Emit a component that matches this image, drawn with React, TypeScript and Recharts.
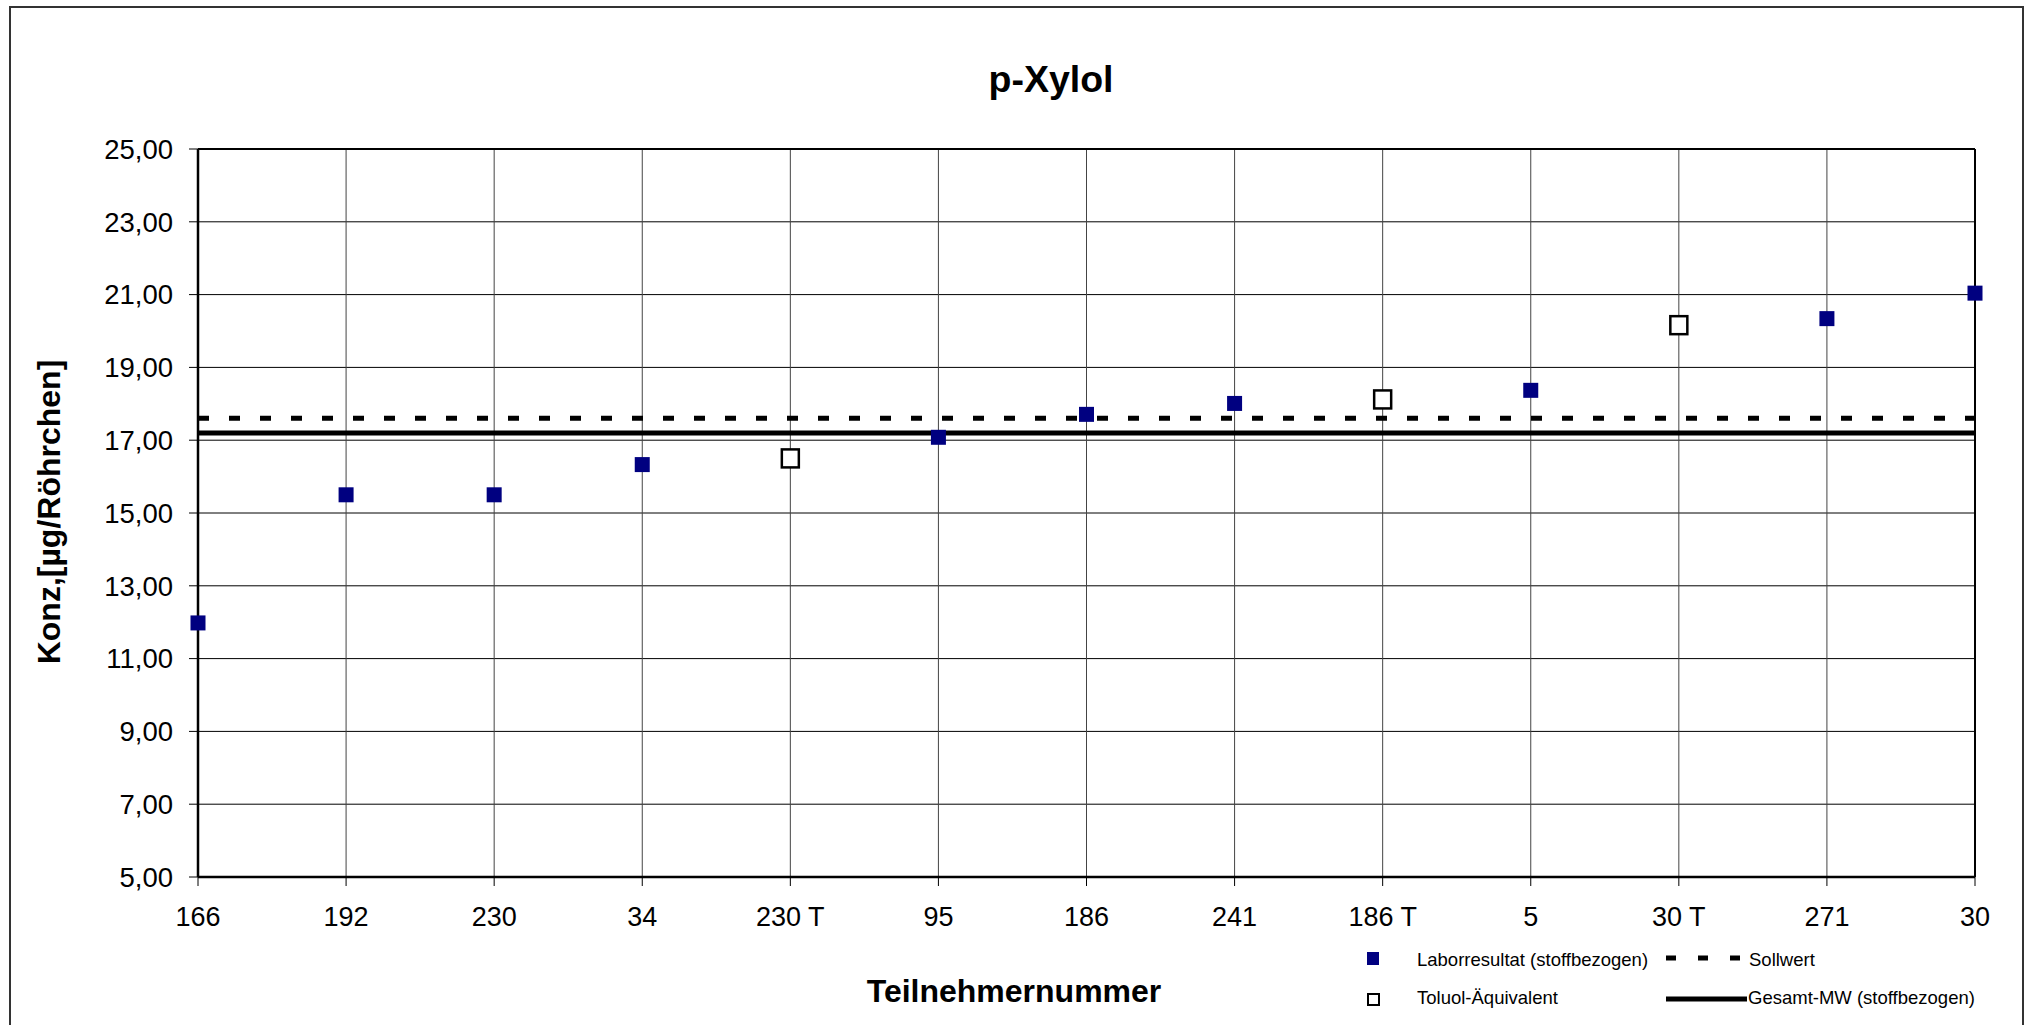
import React from "react";
import { ScatterChart, Scatter, XAxis, YAxis, CartesianGrid, ReferenceLine } from "recharts";

const FONT = "'Liberation Sans', Arial, sans-serif";

// Teilnehmer (x categories)
const participants = ["166", "192", "230", "34", "230 T", "95", "186", "241", "186 T", "5", "30 T", "271", "30"];

// Laborresultat (stoffbezogen), null where the participant only has a Toluol-Äquivalent
const labValues = [11.98, 15.5, 15.5, 16.33, null, 17.08, 17.71, 18.01, null, 18.37, null, 20.34, 21.04];

// Toluol-Äquivalent
const toluolValues = [null, null, null, null, 16.5, null, null, null, 18.12, null, 20.16, null, null];

const sollwert = 17.6;
const gesamtMW = 17.2;

const yTicks = [5, 7, 9, 11, 13, 15, 17, 19, 21, 23, 25];

const toPoints = (vals: (number | null)[]) =>
    vals
        .map((v, i) => (v == null ? null : { x: i, y: v }))
        .filter((p): p is { x: number; y: number } => p !== null);

const labData = toPoints(labValues);
const toluolData = toPoints(toluolValues);
const xTicks = participants.map((_, i) => i);

const FilledSquare = (props: any) => {
    const { cx, cy } = props;
    return <rect x={cx - 7.5} y={cy - 7.5} width={15} height={15} fill="#000080" />;
};

const OpenSquare = (props: any) => {
    const { cx, cy } = props;
    return <rect x={cx - 8.5} y={cy - 9} width={17} height={18} fill="#fff" stroke="#000" strokeWidth={2.5} />;
};

const fmt = (v: number) => v.toFixed(2).replace(".", ",");

export default function App() {
    return (
        <div style={{ position: "absolute", left: 0, top: 0, width: 2035, height: 1025, overflow: "hidden", background: "#fff", fontFamily: FONT }}>
            <div
                style={{
                    position: "absolute",
                    left: 9,
                    top: 6,
                    width: 2015,
                    height: 1030,
                    border: "2px solid #333",
                    boxSizing: "border-box",
                }}
            />
            <div style={{ position: "absolute", left: 0, top: 0 }}>
                <ScatterChart width={2035} height={1025} margin={{ top: 149, right: 60, bottom: 88, left: 108 }}>
                    <CartesianGrid horizontal={true} vertical={false} stroke="#000" strokeWidth={1} />
                    <CartesianGrid horizontal={false} vertical={true} stroke="#444" strokeWidth={1} />
                    <XAxis
                        type="number"
                        dataKey="x"
                        domain={[0, 12]}
                        ticks={xTicks}
                        interval={0}
                        height={60}
                        tickFormatter={(i: number) => participants[i]}
                        tick={{ fill: "#000", fontSize: 27, fontFamily: FONT }}
                        tickSize={9}
                        tickMargin={21}
                        tickLine={{ stroke: "#000", strokeWidth: 1 }}
                        axisLine={{ stroke: "#000", strokeWidth: 2.5 }}
                        allowDecimals={false}
                    />
                    <YAxis
                        type="number"
                        dataKey="y"
                        domain={[5, 25]}
                        ticks={yTicks}
                        interval={0}
                        width={90}
                        tickFormatter={fmt}
                        tick={{ fill: "#000", fontSize: 27.5, fontFamily: FONT }}
                        tickSize={9}
                        tickMargin={16}
                        tickLine={{ stroke: "#000", strokeWidth: 1 }}
                        axisLine={{ stroke: "#000", strokeWidth: 2.5 }}
                    />
                    <ReferenceLine y={25} stroke="#000" strokeWidth={2} />
                    <ReferenceLine x={12} stroke="#000" strokeWidth={2} />
                    <ReferenceLine y={sollwert} stroke="#000" strokeWidth={5} strokeDasharray="11 20" />
                    <ReferenceLine y={gesamtMW} stroke="#000" strokeWidth={5} />
                    <Scatter name="Laborresultat (stoffbezogen)" data={labData} shape={FilledSquare} isAnimationActive={false} />
                    <Scatter name="Toluol-Äquivalent" data={toluolData} shape={OpenSquare} isAnimationActive={false} />
                </ScatterChart>
            </div>
            <svg width={2035} height={1025} style={{ position: "absolute", left: 0, top: 0, pointerEvents: "none" }}>
                <text x={1051} y={92} textAnchor="middle" fontSize={37.5} fontWeight="bold" fontFamily={FONT} fill="#000">
                    p-Xylol
                </text>
                <text
                    x={0}
                    y={0}
                    transform="translate(60 512) rotate(-90)"
                    textAnchor="middle"
                    fontSize={32}
                    fontWeight="bold"
                    fontFamily={FONT}
                    fill="#000"
                >
                    Konz,[µg/Röhrchen]
                </text>
                <text x={1014} y={1002} textAnchor="middle" fontSize={32} fontWeight="bold" fontFamily={FONT} fill="#000">
                    Teilnehmernummer
                </text>
                {/* legend */}
                <rect x={1367} y={952} width={12} height={13} fill="#000080" />
                <text x={1417} y={966} fontSize={18.5} fontFamily={FONT} fill="#000">
                    Laborresultat (stoffbezogen)
                </text>
                <line x1={1666} y1={958} x2={1740} y2={958} stroke="#000" strokeWidth={5} strokeDasharray="10 22" />
                <text x={1749} y={966} fontSize={18.5} fontFamily={FONT} fill="#000">
                    Sollwert
                </text>
                <rect x={1368} y={994} width={11} height={11} fill="#fff" stroke="#000" strokeWidth={2} />
                <text x={1417} y={1004} fontSize={18.5} fontFamily={FONT} fill="#000">
                    Toluol-Äquivalent
                </text>
                <line x1={1666} y1={999} x2={1747} y2={999} stroke="#000" strokeWidth={5} />
                <text x={1748} y={1004} fontSize={18.5} fontFamily={FONT} fill="#000">
                    Gesamt-MW (stoffbezogen)
                </text>
            </svg>
        </div>
    );
}
